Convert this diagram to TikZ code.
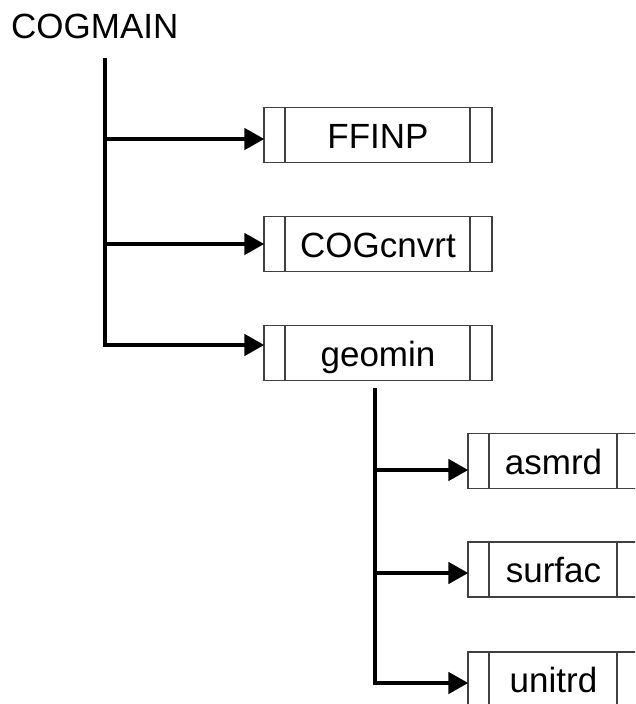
\documentclass[tikz,border=0pt]{standalone}
\usepackage{fontspec}
\setmainfont{Liberation Sans}
\usetikzlibrary{arrows.meta}
\tikzset{
  modbox/.style={draw=black!75, line width=1.3pt, minimum height=55pt, inner sep=0pt,
    text height=26pt, text depth=0pt, font=\fontsize{35}{40}\selectfont,
    path picture={
      \draw[black!75, line width=1.3pt]
        ([xshift=21pt]path picture bounding box.north west) -- ([xshift=21pt]path picture bounding box.south west)
        ([xshift=-22pt]path picture bounding box.north east) -- ([xshift=-22pt]path picture bounding box.south east);
    }},
  bigbox/.style={modbox, minimum width=228pt},
  smallbox/.style={modbox, minimum width=171pt},
  conn/.style={line width=4.5pt},
  arr/.style={line width=4.5pt, -{Triangle[length=20pt,width=21pt]}, shorten >=-1pt},
}
\begin{document}
\begin{tikzpicture}[x=1pt,y=-1pt]
\useasboundingbox (0,0) rectangle (635,704);
\clip (0,0) rectangle (635,704);
\node[anchor=base west, inner sep=0pt, font=\fontsize{35}{40}\selectfont] (cogmain) at (11,38) {COGMAIN};
\node[bigbox] (ffinp) at (378,135) {FFINP};
\node[bigbox] (cogcnvrt) at (378,244) {COGcnvrt};
\node[bigbox] (geomin) at (378,353) {geomin};
\node[smallbox] (asmrd) at (553.5,461) {asmrd};
\node[smallbox] (surfac) at (553.5,569.5) {surfac};
\node[smallbox] (unitrd) at (553.5,679.5) {unitrd};
\coordinate (top1) at (105,58);
\coordinate (top2) at (375,388);
% main bus
\draw[arr, line join=miter] (top1) |- ([yshift=8pt]geomin.west);
\draw[arr] (top1 |- ffinp.west) ++(0,4) -- ([yshift=-4pt]ffinp.west);
\draw[arr] (top1 |- cogcnvrt.west) -- (cogcnvrt.west);
% sub bus
\draw[arr, line join=miter] (top2) |- ([yshift=-3.5pt]unitrd.west);
\draw[arr] (top2 |- asmrd.west) ++(0,9) -- ([yshift=-9pt]asmrd.west);
\draw[arr] (top2 |- surfac.west) ++(0,3.5) -- ([yshift=-3.5pt]surfac.west);
\end{tikzpicture}
\end{document}
